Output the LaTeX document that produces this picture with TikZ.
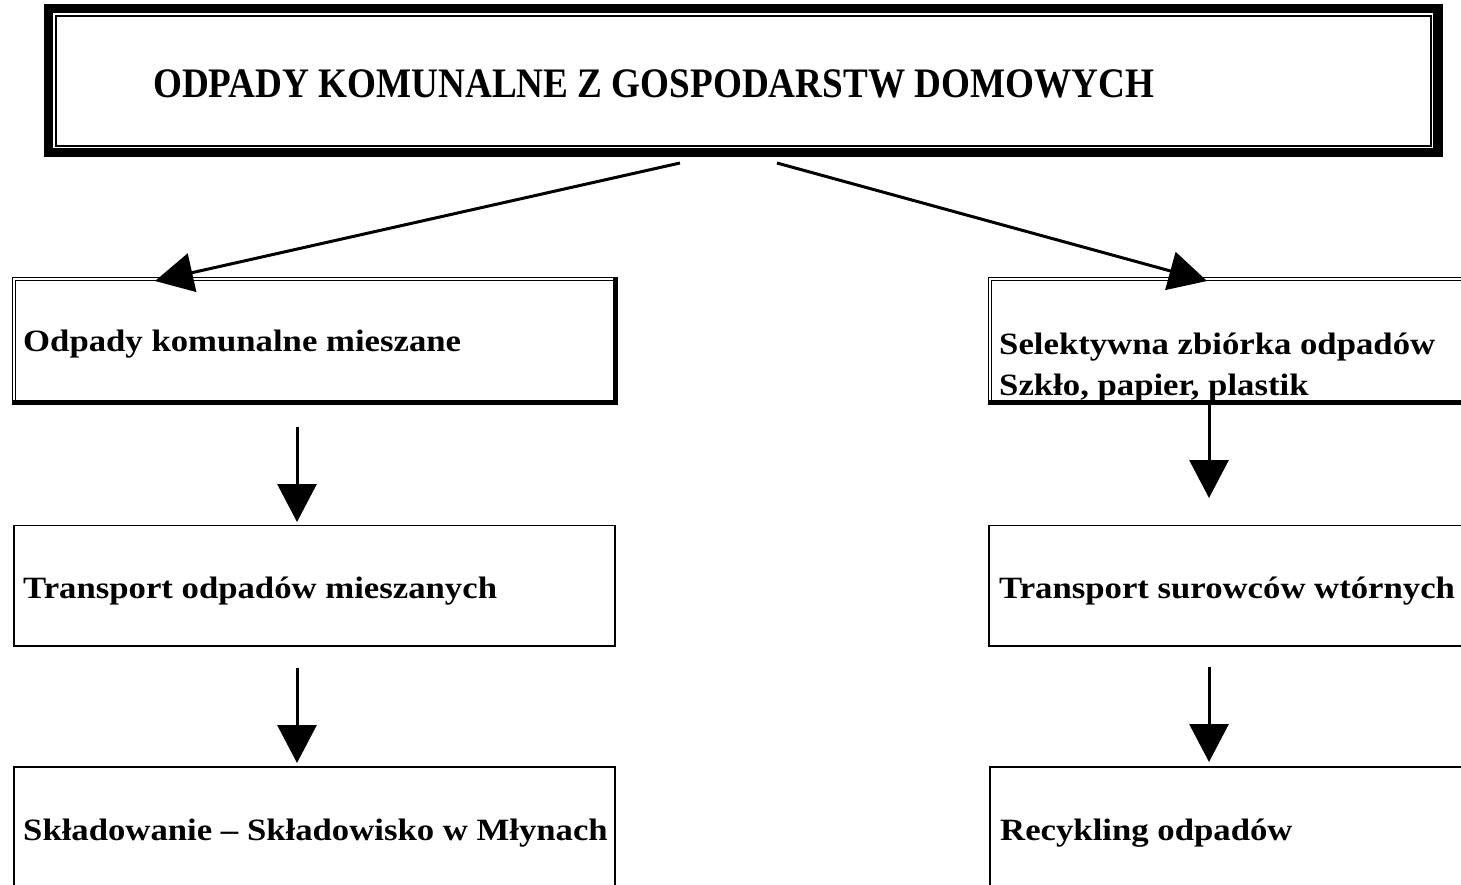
\documentclass[tikz,border=0pt]{standalone}
\usepackage{fontspec}
\setmainfont{Liberation Serif}
\newfontfamily\tytulowa[FakeStretch=0.885]{Liberation Serif}
\newfontfamily\zwykla[FakeStretch=1.12]{Liberation Serif}
\usetikzlibrary{arrows.meta}
\newcommand{\cien}[1]{\draw[line width=4.6pt,line cap=rect] (#1.north east) -- (#1.south east) -- (#1.south west)}
\newcommand{\srodek}[1]{\draw[line width=1.7pt] ([shift={(7pt,-7pt)}]#1.north west) rectangle ([shift={(-7pt,7pt)}]#1.south east)}
\tikzset{
	ramka/.style={draw,line width=1.8pt,inner sep=0pt,outer sep=0pt,anchor=north west},
	podwojna/.style={ramka,double,line width=1.3pt,double distance=2pt},
	napis/.style={anchor=base west,inner sep=0pt,font=\zwykla\bfseries\fontsize{31}{41}\selectfont},
	strzalka/.style={-{Triangle[length=38pt,width=39pt]},line width=3pt}
}

\begin{document}
\begin{tikzpicture}[x=1pt,y=-1pt]
	\useasboundingbox (0,0) rectangle (1461,884);
	\clip (0,0) rectangle (1461,884);
	\node[ramka,line width=9.3pt,minimum width=1389.3pt,minimum height=144pt] (gora) at (48.7,8.7) {};
	\srodek{gora};
	\node[napis,font=\tytulowa\bfseries\fontsize{42}{48}\selectfont] (tytul) at (153,97) {ODPADY KOMUNALNE Z GOSPODARSTW DOMOWYCH};
	\node[podwojna,minimum width=601.5pt,minimum height=123.7pt] (mieszane) at (14,279) {};
	\cien{mieszane};
	\node[podwojna,minimum width=510pt,minimum height=123.7pt] (selektywna) at (990,279) {};
	\cien{selektywna};
	\node[ramka,minimum width=601.3pt,minimum height=120.3pt] (transportL) at (13.7,525.5) {};
	\node[ramka,minimum width=511pt,minimum height=120.3pt] (transportP) at (989,525.5) {};
	\node[ramka,minimum width=601.3pt,minimum height=200pt] (skladowanie) at (13.7,767) {};
	\node[ramka,minimum width=510pt,minimum height=200pt] (recykling) at (990.3,767) {};
	\node[napis] (tmieszane) at (23,351) {Odpady komunalne mieszane};
	\node[napis] (tselektywna) at (999,354) {Selektywna zbiórka odpadów};
	\node[napis] (tszklo) at (999,395) {Szkło, papier, plastik};
	\node[napis] (ttransportL) at (23,598) {Transport odpadów mieszanych};
	\node[napis] (ttransportP) at (999,598) {Transport surowców wtórnych};
	\node[napis] (tskladowanie) at (23,840) {Składowanie – Składowisko w Młynach};
	\node[napis] (trecykling) at (1000,840) {Recykling odpadów};
	\coordinate (osL) at (297,0);
	\coordinate (osP) at (1209,0);
	\coordinate (wyjL) at ([shift={(-63.4pt,-10.3pt)}]gora.south);
	\coordinate (wyjP) at ([shift={(33.6pt,-10.3pt)}]gora.south);
	\draw[strzalka] (wyjL) -- ([shift={(141pt,-2pt)}]mieszane.north west);
	\draw[strzalka] (wyjP) -- ([shift={(217pt,-2pt)}]selektywna.north west);
	\draw[strzalka,shorten <=24.3pt,shorten >=3.5pt] (mieszane.south -| osL) -- (transportL.north -| osL);
	\draw[strzalka,shorten <=22pt,shorten >=4pt] (transportL.south -| osL) -- (skladowanie.north -| osL);
	\draw[strzalka,shorten >=27.5pt] (selektywna.south -| osP) -- (transportP.north -| osP);
	\draw[strzalka,shorten <=21pt,shorten >=5pt] (transportP.south -| osP) -- (recykling.north -| osP);
\end{tikzpicture}
\end{document}
